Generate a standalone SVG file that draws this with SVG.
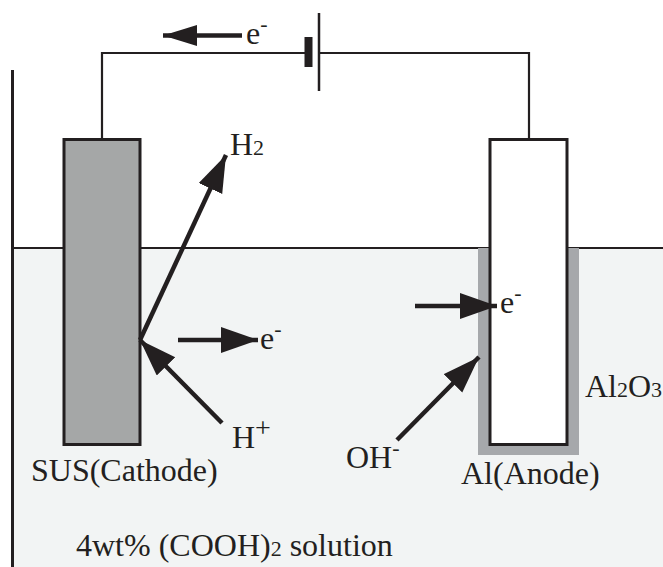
<svg xmlns="http://www.w3.org/2000/svg" width="663" height="567" viewBox="0 0 663 567">
<style>
text{font-family:"Liberation Serif","Times New Roman",serif;font-size:32px;fill:#231f20}
.s{font-size:22px}
.w{fill:none;stroke:#231f20;stroke-width:2.2}
.a{fill:none;stroke:#231f20;stroke-width:4.500;marker-end:url(#h)}
.t{fill:none;stroke:#231f20;stroke-width:4.500;marker-end:url(#k)}
.e{fill:#a5a7a7;stroke:#231f20;stroke-width:3}
</style>
<defs>
<marker id="h" markerUnits="userSpaceOnUse" markerWidth="38" markerHeight="28" refX="37" refY="13" orient="auto"><path d="M0 0L37 13L0 26z" fill="#231f20"/></marker>
<marker id="k" markerUnits="userSpaceOnUse" markerWidth="35" markerHeight="22" refX="34" refY="10.500" orient="auto"><path d="M0 0L34 10.500L0 21z" fill="#231f20"/></marker>
</defs>
<rect width="663" height="567" fill="#fff"/>
<g id="solution"><rect x="12" y="248" width="651" height="319" fill="#f2f4f4"/><path class="w" d="M12 248H663"/><path class="w" d="M12.500 70V567" style="stroke-width:3"/></g>
<g id="cathode"><rect class="e" x="64" y="139.500" width="76" height="305"/><text x="31" y="481">SUS(Cathode)</text></g>
<g id="anode"><rect x="478" y="248" width="101" height="207" fill="#a6a8ab"/><rect x="490" y="139.500" width="77" height="305" fill="#fff" stroke="#231f20" stroke-width="3"/><text x="461" y="484">Al(Anode)</text></g>
<g id="battery"><rect x="304.500" y="37" width="8" height="30" fill="#231f20"/><path class="w" d="M319 13V91" style="stroke-width:2.500"/></g>
<g id="connectors">
<path class="w" d="M102 139V53H306"/><path class="w" d="M319 53H529V139"/>
<path class="t" d="M242 35.500H163"/>
<path class="a" d="M178 340H258"/>
<path class="a" d="M140 340L226 155"/>
<path class="a" d="M222 423L140 340"/>
<path class="a" d="M415 306H497"/>
<path class="a" d="M397 440L479 357"/>
</g>
<g id="labels">
<text x="246" y="44">e<tspan dy="-13" class="s">-</tspan></text>
<text x="230" y="155">H<tspan class="s">2</tspan></text>
<text x="260" y="349">e<tspan dy="-13" class="s">-</tspan></text>
<text x="232" y="448">H<tspan dy="-11" class="s" style="font-size:28px">+</tspan></text>
<text x="500" y="313">e<tspan dy="-13" class="s">-</tspan></text>
<text x="346" y="468">OH<tspan dy="-13" class="s">-</tspan></text>
<text x="585" y="397">Al<tspan class="s">2</tspan>O<tspan class="s">3</tspan></text>
<text x="76" y="556">4wt% (COOH)<tspan class="s">2</tspan> solution</text>
</g>
</svg>
